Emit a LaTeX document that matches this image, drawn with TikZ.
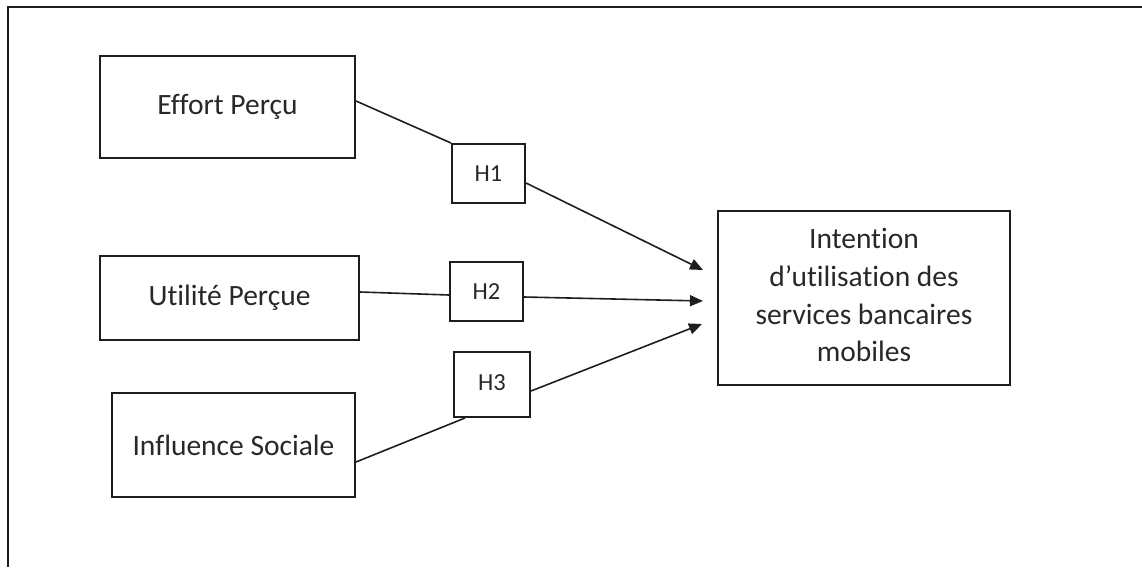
\documentclass[tikz,border=0pt]{standalone}
\usepackage{fontspec}
\setmainfont{Carlito}[Ligatures=NoCommon]
\usetikzlibrary{arrows.meta}
\definecolor{ink}{RGB}{30,30,30}
\definecolor{txt}{RGB}{40,40,40}
\tikzset{
  varbox/.style={draw=ink, line width=2pt, inner sep=0pt, text=txt, font=\fontsize{29.5}{35}\selectfont},
  hbox/.style={draw=ink, line width=2pt, inner sep=0pt, text=txt, font=\fontsize{24.5}{29}\selectfont},
  link/.style={draw=ink, line width=1.6pt},
  arrowlink/.style={link, -{Triangle[length=13pt,width=11pt]}},
  frame/.style={draw=ink, line width=2pt}
}
\begin{document}
\begin{tikzpicture}[x=1pt,y=-1pt]
\useasboundingbox (0,0) rectangle (1142,567);
% outer frame (top and left edges only)
\coordinate (fbl) at (8,567);
\coordinate (ftl) at (8,7);
\coordinate (ftr) at (1142,7);
\draw[frame] (fbl) -- (ftl) -- (ftr);

% variable boxes
\node[varbox, minimum width=255pt, minimum height=102pt] (eff) at (227.5,107) {Effort Perçu};
\node[varbox, minimum width=259pt, minimum height=84pt] (uti) at (229.5,298) {Utilité Perçue};
\node[varbox, minimum width=243pt, minimum height=104pt] (inf) at (233.5,445) {Influence Sociale};
\node[varbox, minimum width=292pt, minimum height=174pt, align=center,
      font=\fontsize{29.5}{37.7}\selectfont] (int) at (864,298)
      {Intention\\d’utilisation des\\services bancaires\\mobiles\rule[-6pt]{0pt}{0pt}};

% hypothesis boxes
\node[hbox, minimum width=73pt, minimum height=59pt] (h1) at (488.5,173.5) {H1};
\node[hbox, minimum width=73pt, minimum height=59pt] (h2) at (486.5,291.5) {H2};
\node[hbox, minimum width=76pt, minimum height=65pt] (h3) at (492,384.5) {\raisebox{4pt}{H3}};

% arrow tips
\coordinate (t1) at (703,270);
\coordinate (t2) at (703,301);
\coordinate (t3) at (702,324);

% connectors
\draw[link] ([yshift=6pt]eff.east) -- (h1.north west);
\draw[arrowlink] ([yshift=-9.5pt]h1.east) -- (t1);
\draw[link] ([yshift=6pt]uti.east) -- ([yshift=-3.5pt]h2.west);
\draw[arrowlink] ([yshift=-5.5pt]h2.east) -- (t2);
\draw[link] ([yshift=-17pt]inf.east) -- ([xshift=-27pt]h3.south);
\draw[arrowlink] ([yshift=-6.5pt]h3.east) -- (t3);
\end{tikzpicture}
\end{document}
